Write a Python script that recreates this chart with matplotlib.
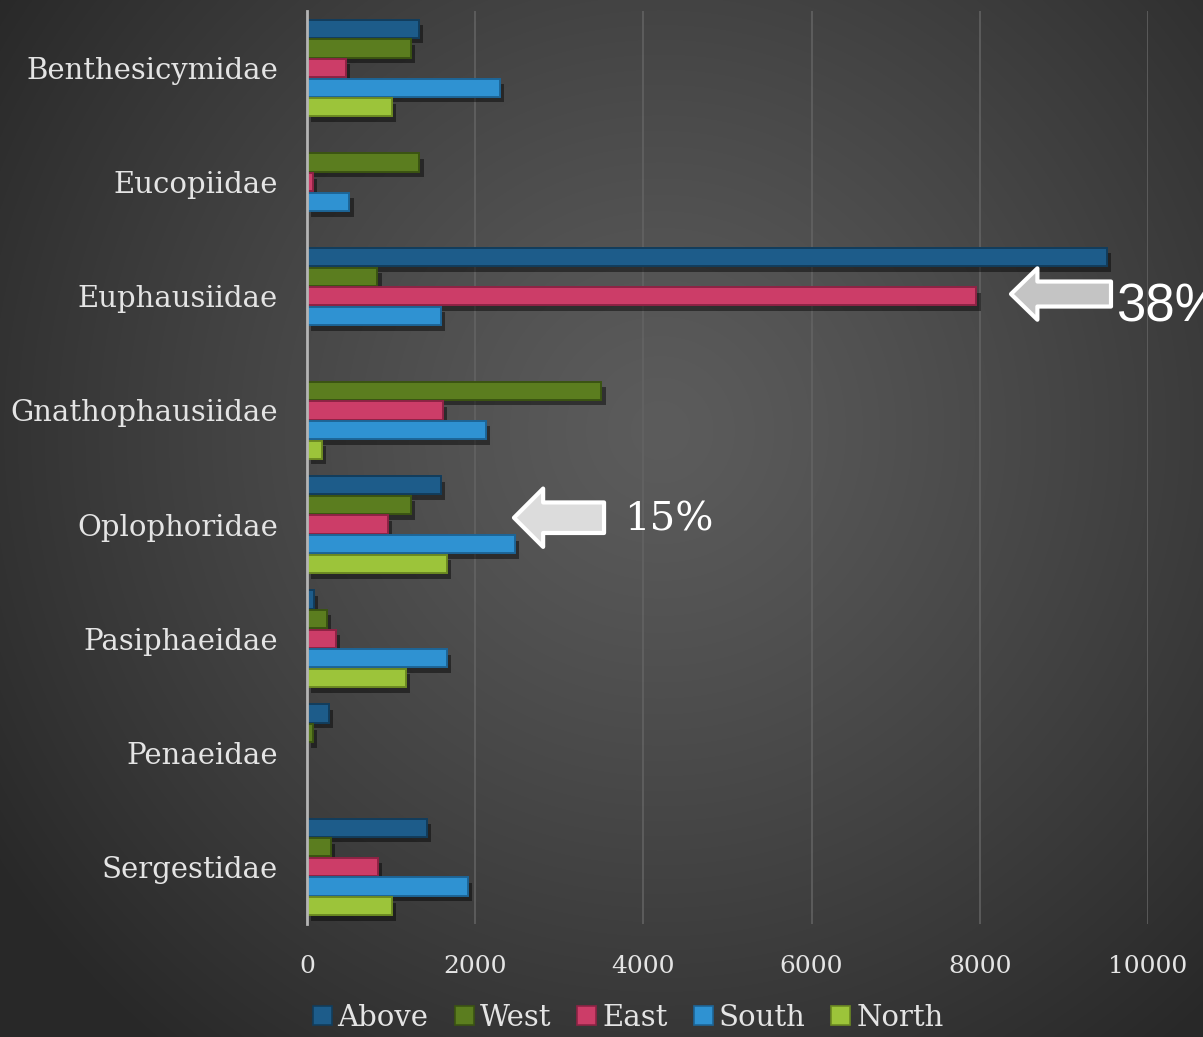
import matplotlib
matplotlib.use("Agg")
import matplotlib.pyplot as plt
import matplotlib.patheffects as pe
from matplotlib.patches import Patch
import numpy as np

# ── Data ──────────────────────────────────────────────────────────────────────
FAMILIES = ["Benthesicymidae", "Eucopiidae", "Euphausiidae", "Gnathophausiidae",
            "Oplophoridae", "Pasiphaeidae", "Penaeidae", "Sergestidae"]
SERIES = ["Above", "West", "East", "South", "North"]

ABOVE = [1330, 0, 9508, 0, 1595, 87, 262, 1423]
WEST  = [1234, 1337, 837, 3500, 1234, 234, 68, 285]
EAST  = [460, 68, 7960, 1615, 960, 341, 0, 840]
SOUTH = [2298, 504, 1595, 2131, 2468, 1663, 0, 1918]
NORTH = [1008, 0, 0, 175, 1663, 1174, 0, 1008]

XTICKS = [0, 2000, 4000, 6000, 8000, 10000]

# ── Style ─────────────────────────────────────────────────────────────────────
COLORS = ["#1d5c8a", "#5b7d1f", "#cc3d68", "#2f92d2", "#9cc43a"]
EDGES  = ["#123d5c", "#3b5412", "#8e2345", "#1d6597", "#6c8a22"]
TEXT   = "#e4e4e4"
SERIF  = ["DejaVu Serif"]

fig = plt.figure(figsize=(12.03, 10.37), dpi=100)

# radial gradient background
bg = fig.add_axes([0, 0, 1, 1], zorder=-10)
h, w = 1037, 1203
yy, xx = np.mgrid[0:h, 0:w]
r = np.sqrt((xx - 660) ** 2 + (yy - 430) ** 2) / 800
r = np.clip(r, 0, 1)
inner, outer = 0x5c / 255, 0x28 / 255
grey = inner + (outer - inner) * r ** 1.2
bg.imshow(np.dstack([grey, grey, grey]), aspect="auto", extent=[0, 1, 0, 1])
bg.axis("off")

ax = fig.add_axes([307 / 1203, 113 / 1037, 841 / 1203, 913 / 1037])
ax.set_facecolor("none")

values = [ABOVE, WEST, EAST, SOUTH, NORTH]
y = np.arange(len(FAMILIES))
step = 0.172
shadow = [pe.SimplePatchShadow(offset=(3, -4), shadow_rgbFace="black", alpha=0.45),
          pe.Normal()]
for j, (vals, c, ec) in enumerate(zip(values, COLORS, EDGES)):
    bars = ax.barh(y + (j - 2) * step, vals, height=0.16, color=c,
                   edgecolor=ec, linewidth=1.4, zorder=3)
    for b in bars:
        if b.get_width() > 0:
            b.set_path_effects(shadow)
        else:
            b.set_visible(False)

ax.set_ylim(len(FAMILIES) - 0.5, -0.5)
ax.set_xlim(0, 10000)
ax.set_yticks(y)
ax.set_yticklabels(FAMILIES, fontsize=21, color=TEXT, family=SERIF)
ax.set_xticks(XTICKS)
ax.set_xticklabels([str(t) for t in XTICKS], fontsize=18, color=TEXT, family=SERIF)
ax.tick_params(axis="y", length=0, pad=21)
ax.tick_params(axis="x", length=0, pad=22)
ax.xaxis.grid(True, color="#646464", linewidth=1.1, zorder=0)
ax.set_axisbelow(True)
for s in ["top", "right", "bottom"]:
    ax.spines[s].set_visible(False)
ax.spines["left"].set_color("#b4b4b4")
ax.spines["left"].set_linewidth(2)
ax.spines["left"].set_zorder(5)

# callout arrows (the "38%" runs off the right edge, as in the original)
arrow = "simple,head_length=19,head_width=37,tail_width=18"
ax.annotate("", xy=(8371, 2 - 0.02), xytext=(9560, 2 - 0.02),
            arrowprops=dict(arrowstyle=arrow, mutation_scale=1, fc="#c4c4c4",
                            ec="white", lw=3, shrinkA=0, shrinkB=0), zorder=6)
ax.text(9620, 2.1, "38%", fontsize=38, color="white", family="Liberation Sans",
        va="center", ha="left", clip_on=False, zorder=6)

arrow2 = "simple,head_length=21,head_width=42,tail_width=22"
ax.annotate("", xy=(2461, 4 - 0.06), xytext=(3532, 4 - 0.06),
            arrowprops=dict(arrowstyle=arrow2, mutation_scale=1, fc="#dcdcdc",
                            ec="white", lw=3, shrinkA=0, shrinkB=0), zorder=6)
ax.text(3770, 3.96, "15%", fontsize=29, color="white", family=SERIF,
        va="center", ha="left", zorder=6)

handles = [Patch(facecolor=c, edgecolor=ec, linewidth=1.2) for c, ec in zip(COLORS, EDGES)]
leg = fig.legend(handles, SERIES, loc="center", bbox_to_anchor=(628 / 1203, 1 - 1018 / 1037),
                 ncol=5, frameon=False, handlelength=0.65, handleheight=0.65,
                 handletextpad=0.2, columnspacing=0.9, prop={"family": SERIF, "size": 21})
for t in leg.get_texts():
    t.set_color(TEXT)

fig.savefig("out.png", dpi=100)
